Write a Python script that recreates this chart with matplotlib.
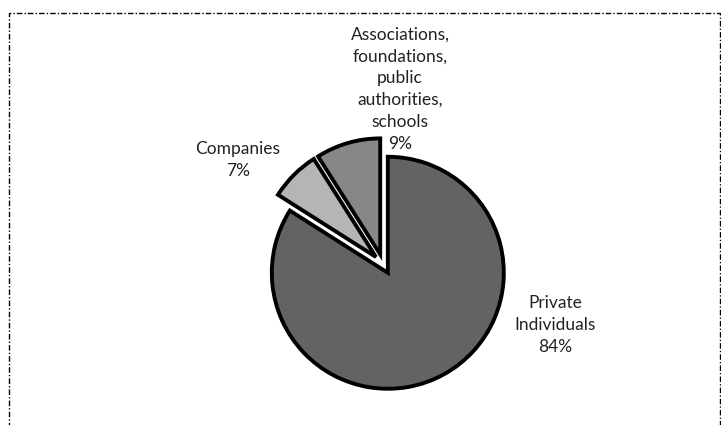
import matplotlib.pyplot as plt
from matplotlib.patches import Rectangle

# data
categories = ['Private\nIndividuals', 'Companies',
              'Associations,\nfoundations,\npublic\nauthorities,\nschools']
shares = [84, 7, 9]
colors = ['#636363', '#b5b5b5', '#878787']
explode_px = [10, 10, 10]

W, H = 721, 425
R = 116
cx, cy = 383, H - 264

plt.rcParams['font.family'] = ['Lato', 'DejaVu Sans']

fig = plt.figure(figsize=(W / 100, H / 100), dpi=100)
ax = fig.add_axes([0, 0, 1, 1])

# explode is in data units here (= pixels)
ax.pie(shares, colors=colors, startangle=90, counterclock=False,
       radius=R, center=(cx, cy), explode=explode_px,
       wedgeprops=dict(edgecolor='black', linewidth=2.8))

ax.set_xlim(0, W)
ax.set_ylim(0, H)
ax.set_aspect('equal')
ax.axis('off')

# label positions (pixel coords, y from top)
label_pos = [(555, 325), (238, 160), (400, 89)]
for cat, s, (x, y) in zip(categories, shares, label_pos):
    ax.text(x, H - y, f'{cat}\n{s}%', ha='center', va='center',
            fontsize=12.5, color='#222222', linespacing=1.45)

# dashed border
fig.patches.append(Rectangle((9 / W, -0.05), (W - 10) / W, (H - 13) / H + 0.05,
                             transform=fig.transFigure, fill=False,
                             edgecolor='black', linewidth=1.0,
                             linestyle=(0, (4, 1.5, 1, 1.5))))

fig.savefig('out.png', dpi=100)
